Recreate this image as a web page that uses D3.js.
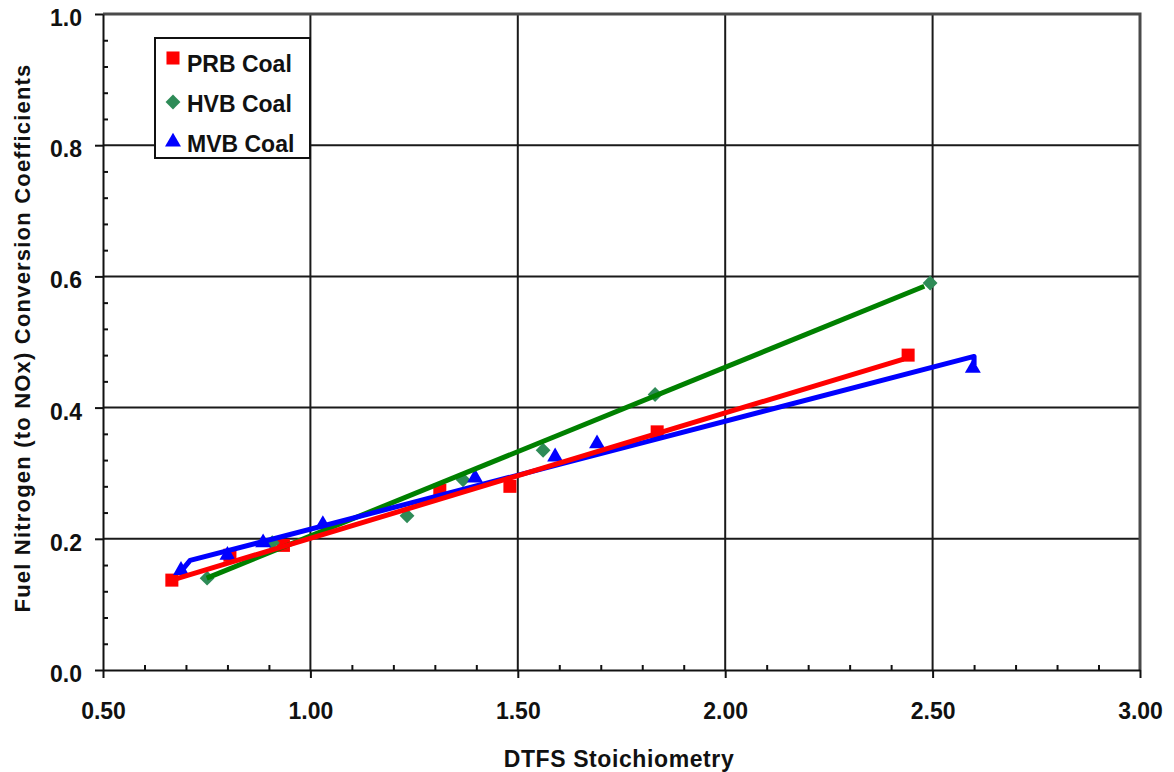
<!DOCTYPE html>
<html>
<head>
<meta charset="utf-8">
<script src="https://cdn.jsdelivr.net/npm/d3@7"></script>
<style>
  html, body { margin: 0; padding: 0; background: #fff; }
  svg { display: block; }
  text { font-family: Arial, "Liberation Sans", sans-serif; font-weight: bold; fill: #111; }
</style>
</head>
<body>
<svg id="chart" width="1174" height="772"></svg>
<script>
// Measured conversion coefficients for three coals
const prbX = [0.666, 0.806, 0.935, 1.312, 1.481, 1.836, 2.441];
const prbY = [0.137, 0.175, 0.190, 0.274, 0.280, 0.363, 0.480];

const hvbX = [0.751, 0.908, 1.233, 1.368, 1.561, 1.831, 2.494];
const hvbY = [0.140, 0.194, 0.235, 0.290, 0.335, 0.420, 0.590];

const mvbX = [0.688, 0.800, 0.886, 1.030, 1.397, 1.590, 1.691, 2.597];
const mvbY = [0.152, 0.175, 0.194, 0.222, 0.293, 0.325, 0.345, 0.460];

// Fitted trend lines
const prbFitX = [0.666, 2.43];
const prbFitY = [0.137, 0.474];
const hvbFitX = [0.75, 2.48];
const hvbFitY = [0.140, 0.585];
const mvbFitX = [0.69, 0.71, 2.60, 2.60];
const mvbFitY = [0.152, 0.167, 0.478, 0.465];

const seriesNames = ["PRB Coal", "HVB Coal", "MVB Coal"];

// Axis ticks
const xMajor = [0.5, 1.0, 1.5, 2.0, 2.5, 3.0];
const xMinor = d3.range(6, 30).map(d => d / 10).filter(v => Math.abs(v * 2 - Math.round(v * 2)) > 1e-9);
const yMajor = [0.0, 0.2, 0.4, 0.6, 0.8, 1.0];
const yMinor = d3.range(1, 25).map(d => d * 0.04).filter(v => Math.abs(v * 5 - Math.round(v * 5)) > 1e-6);

const xTitle = "DTFS Stoichiometry";
const yTitle = "Fuel Nitrogen (to NOx) Conversion Coefficients";

const svg = d3.select("#chart");
const L = 103, R = 1140, T = 14, B = 670;
const x = d3.scaleLinear().domain([0.5, 3.0]).range([L, R]);
const y = d3.scaleLinear().domain([0, 1]).range([B, T]);

// Gridlines
const grid = svg.append("g");
grid.selectAll("line.gx").data(xMajor.slice(1, -1)).join("line")
  .attr("x1", d => x(d)).attr("x2", d => x(d)).attr("y1", T).attr("y2", B)
  .attr("stroke", "#1a1a1a").attr("stroke-width", 2);
grid.selectAll("line.gy").data(yMajor.slice(1, -1)).join("line")
  .attr("x1", L).attr("x2", R).attr("y1", d => y(d)).attr("y2", d => y(d))
  .attr("stroke", "#1a1a1a").attr("stroke-width", 2);

// Top and right frame
svg.append("path")
  .attr("d", `M${L},${T}H${R}V${B}`)
  .attr("fill", "none").attr("stroke", "#4a4a4a").attr("stroke-width", 3);

// Minor ticks (inside)
const gxMinor = svg.append("g").attr("transform", `translate(0,${B})`)
  .call(d3.axisBottom(x).tickValues(xMinor).tickSize(-5).tickFormat(""));
gxMinor.select(".domain").remove();
gxMinor.selectAll("line").attr("stroke", "#111").attr("stroke-width", 2);

const gyMinor = svg.append("g").attr("transform", `translate(${L},0)`)
  .call(d3.axisLeft(y).tickValues(yMinor).tickSize(-5).tickFormat(""));
gyMinor.select(".domain").remove();
gyMinor.selectAll("line").attr("stroke", "#111").attr("stroke-width", 2);

// Major axes
const gx = svg.append("g").attr("transform", `translate(0,${B})`)
  .call(d3.axisBottom(x).tickValues(xMajor).tickSize(8).tickSizeOuter(0)
    .tickPadding(25).tickFormat(d3.format(".2f")));
gx.select(".domain").attr("stroke", "#111").attr("stroke-width", 2);
gx.selectAll("line").attr("stroke", "#111").attr("stroke-width", 2);
gx.selectAll("text").attr("font-size", 23).attr("font-family", "Arial, 'Liberation Sans', sans-serif")
  .attr("font-weight", "bold").attr("fill", "#111");

const gy = svg.append("g").attr("transform", `translate(${L},0)`)
  .call(d3.axisLeft(y).tickValues(yMajor).tickSize(8).tickSizeOuter(0)
    .tickPadding(13).tickFormat(d3.format(".1f")));
gy.select(".domain").attr("stroke", "#111").attr("stroke-width", 2);
gy.selectAll("line").attr("stroke", "#111").attr("stroke-width", 2);
gy.selectAll("text").attr("font-size", 23).attr("dy", "0.5em")
  .attr("font-family", "Arial, 'Liberation Sans', sans-serif")
  .attr("font-weight", "bold").attr("fill", "#111");

// Series definitions (diamond = square turned 45 degrees)
const series = [
  { name: seriesNames[0], xs: prbX, ys: prbY, fx: prbFitX, fy: prbFitY, marker: d3.symbolSquare, size: 170, rot: 0, mcolor: "#ff0000", lcolor: "#ff0000" },
  { name: seriesNames[1], xs: hvbX, ys: hvbY, fx: hvbFitX, fy: hvbFitY, marker: d3.symbolSquare, size: 110, rot: 45, mcolor: "#2e8b57", lcolor: "#008000" },
  { name: seriesNames[2], xs: mvbX, ys: mvbY, fx: mvbFitX, fy: mvbFitY, marker: d3.symbolTriangle, size: 110, rot: 0, mcolor: "#0000ff", lcolor: "#0000ff" }
];

// Markers
series.forEach(s => {
  svg.append("g").selectAll("path").data(d3.zip(s.xs, s.ys)).join("path")
    .attr("transform", d => `translate(${x(d[0])},${y(d[1])}) rotate(${s.rot})`)
    .attr("d", d3.symbol().type(s.marker).size(s.size))
    .attr("fill", s.mcolor);
});

// Trend lines (green, blue, red stacking)
const line = d3.line().x(d => x(d[0])).y(d => y(d[1]));
[series[1], series[2], series[0]].forEach(s => {
  svg.append("path").datum(d3.zip(s.fx, s.fy))
    .attr("d", line).attr("fill", "none")
    .attr("stroke", s.lcolor).attr("stroke-width", 5)
    .attr("stroke-linejoin", "round");
});

// Legend
const lg = svg.append("g");
lg.append("rect").attr("x", 155).attr("y", 38).attr("width", 155).attr("height", 120)
  .attr("fill", "#fff").attr("stroke", "#111").attr("stroke-width", 2);
const rowY = [62, 102, 142];
series.forEach((s, i) => {
  lg.append("path")
    .attr("transform", `translate(173,${rowY[i] - (i === 0 ? 4 : 0)}) rotate(${s.rot})`)
    .attr("d", d3.symbol().type(s.marker).size(s.size))
    .attr("fill", s.mcolor);
  lg.append("text").attr("x", 187).attr("y", rowY[i] + 10)
    .attr("font-size", 23).text(s.name);
});

// Axis titles
svg.append("text").attr("x", 619).attr("y", 767).attr("text-anchor", "middle")
  .attr("font-size", 23).attr("letter-spacing", 0.6).text(xTitle);
svg.append("text").attr("transform", "translate(30,338) rotate(-90)")
  .attr("text-anchor", "middle").attr("font-size", 22).attr("letter-spacing", 1.2).text(yTitle);
</script>
</body>
</html>
